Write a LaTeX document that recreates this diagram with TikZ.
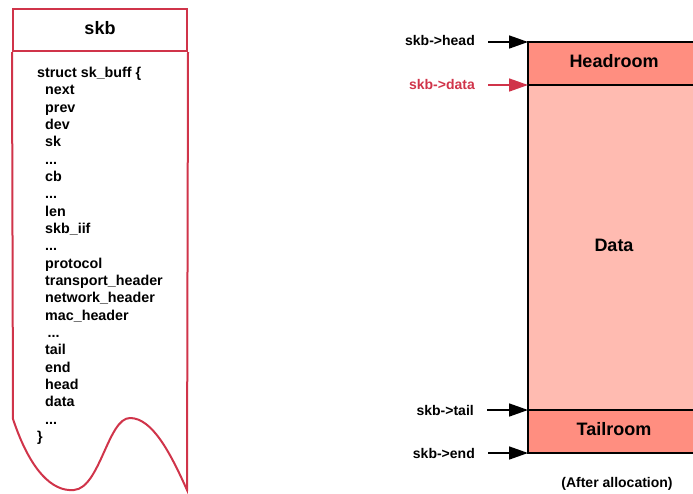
\documentclass[tikz,border=0pt]{standalone}
\usepackage{fontspec}
\setmainfont{Liberation Sans}
\usetikzlibrary{arrows.meta,positioning}

\definecolor{skbred}{HTML}{D0344A}
\definecolor{roomfill}{HTML}{FF8E80}
\definecolor{datafill}{HTML}{FFBBB1}

\newcommand{\fdots}{...}

\tikzset{
  field/.style={anchor=base west, inner sep=0pt, font=\fontsize{14.3}{17}\selectfont\bfseries},
  room/.style={draw=black, line width=1.6pt, minimum width=172pt, anchor=north west,
    outer sep=0pt, text depth=5pt, font=\fontsize{18}{20}\selectfont\bfseries},
  ptr/.style={anchor=east, inner sep=0pt, font=\fontsize{14}{16}\selectfont\bfseries},
  ptrarrow/.style={line width=1.6pt, shorten <=13pt, -{Triangle[length=19pt,width=13pt]}}
}

\begin{document}
\begin{tikzpicture}[x=1pt,y=-1pt]
    \useasboundingbox (0,0) rectangle (693,493);

    % the sk_buff struct
    \node[draw=skbred, line width=2pt, minimum width=174pt, minimum height=42pt, text depth=4pt,
      font=\fontsize{18}{20}\selectfont\bfseries] (skb) at (100,30) {skb};
    \draw[skbred, line width=2pt] (skb.south west) -- (13,419)
      .. controls (30,470) and (52,492) .. (74,490)
      .. controls (100,488) and (108,418) .. (130,418)
      .. controls (152,418) and (170,452) .. (187,490)
      -- (skb.south east);

    \node[field] (first) at (37,77.5) {struct sk\_buff \{};
    \foreach \fld [count=\i] in {next, prev, dev, sk, \fdots, cb, \fdots, len, skb\_iif, \fdots,
        protocol, transport\_header, network\_header, mac\_header, \,\fdots, tail, end,
        head, data, \fdots}
      \node[field] (f\i) at (45,77.5+17.33*\i) {\fld};
    \node[field] (last) at (37,77.5+17.33*21) {\}};

    % the data buffer
    \node[room, fill=roomfill, minimum height=43pt] (headroom) at (528,42) {Headroom};
    \node[room, fill=datafill, minimum height=325pt, below=0pt of headroom] (data) {Data};
    \node[room, fill=roomfill, minimum height=43pt, below=0pt of data] (tailroom) {Tailroom};

    \node[ptr] (phead) at (475,40) {skb->head};
    \node[ptr, text=skbred] (pdata) at (475,84) {skb->data};
    \node[ptr] (ptail) at (474,410) {skb->tail};
    \node[ptr] (pend) at (475,453) {skb->end};

    \draw[ptrarrow] (phead.east |- headroom.north west) -- (headroom.north west);
    \draw[ptrarrow, skbred] (pdata.east |- data.north west) -- (data.north west);
    \draw[ptrarrow] (ptail.east |- tailroom.north west) -- (tailroom.north west);
    \draw[ptrarrow] (pend.east |- tailroom.south west) -- (tailroom.south west);

    \node[font=\fontsize{14}{16}\selectfont\bfseries] (note) at (617,484) {(After allocation)};
  \end{tikzpicture}
\end{document}
